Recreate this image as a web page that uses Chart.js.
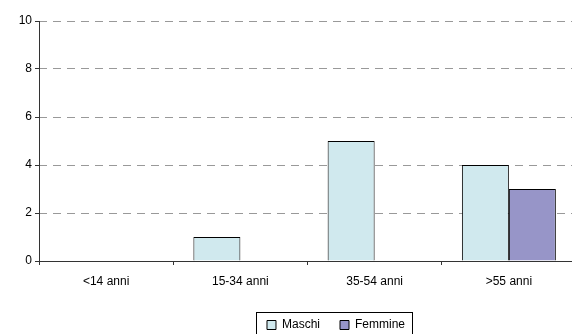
<!DOCTYPE html>
<html>
<head>
<meta charset="utf-8">
<script src="https://cdn.jsdelivr.net/npm/chart.js@4"></script>
<style>
  html, body { margin: 0; padding: 0; background: #fff; overflow: hidden; }
  #wrap { width: 576px; height: 360px; }
</style>
</head>
<body>
<div id="wrap"><canvas id="chart" width="576" height="360"></canvas></div>
<script>
const categories = ['<14 anni', '15-34 anni', '35-54 anni', '>55 anni']
const maschi = [0, 1, 5, 4]
const femmine = [0, 0, 0, 3]
const yTicks = [0, 2, 4, 6, 8, 10]

Chart.defaults.font.family = '"Liberation Sans", Arial, sans-serif'
Chart.defaults.font.size = 12
Chart.defaults.color = '#000'

// solid y axis line (the grid lines themselves are dashed)
const axisLine = {
  id: 'axisLine',
  afterDatasetsDraw (chart) {
    const { ctx, chartArea } = chart
    const x = Math.round(chartArea.left) + 0.5
    ctx.save()
    ctx.strokeStyle = '#333'
    ctx.lineWidth = 1
    ctx.beginPath()
    ctx.moveTo(x, chartArea.top)
    ctx.lineTo(x, chartArea.bottom)
    ctx.stroke()
    ctx.restore()
  }
}

// legend sits a bit right of centre in the original, with a frame round it
const legendFrame = {
  id: 'legendFrame',
  afterLayout (chart) {
    const lg = chart.legend
    if (!lg) return
    lg.left += 48
    lg.right += 48
  },
  afterDraw (chart) {
    const lg = chart.legend
    if (!lg || !lg.legendHitBoxes.length) return
    const boxes = lg.legendHitBoxes
    const left = Math.min(...boxes.map(b => b.left)) - 11
    const right = Math.max(...boxes.map(b => b.left + b.width)) + 7
    const top = boxes[0].top - 7
    const ctx = chart.ctx
    ctx.save()
    ctx.strokeStyle = '#000'
    ctx.lineWidth = 1
    ctx.strokeRect(Math.round(left) + 0.5, Math.round(top) + 0.5, Math.round(right - left), 60)
    ctx.restore()
  }
}

const chart = new Chart(document.getElementById('chart'), {
  type: 'bar',
  data: {
    labels: categories,
    datasets: [
      {
        label: 'Maschi',
        data: maschi,
        backgroundColor: '#D0E9EE',
        borderColor: '#000',
        borderWidth: 1,
        borderSkipped: 'bottom'
      },
      {
        label: 'Femmine',
        data: femmine,
        backgroundColor: '#9795C8',
        borderColor: '#000',
        borderWidth: 1,
        borderSkipped: 'bottom'
      }
    ]
  },
  options: {
    responsive: false,
    animation: false,
    layout: { padding: { top: 21, right: 0, left: 0, bottom: 19 } },
    datasets: { bar: { categoryPercentage: 0.7, barPercentage: 1 } },
    scales: {
      x: {
        grid: { drawOnChartArea: false, drawTicks: true, tickLength: 4, tickColor: '#333' },
        border: { color: '#333', width: 1 },
        ticks: { padding: 9, maxRotation: 0 },
        afterFit (scale) { scale.height = 38 }
      },
      y: {
        min: 0,
        max: 10,
        afterBuildTicks (scale) { scale.ticks = yTicks.map(v => ({ value: v })) },
        grid: { color: '#999', tickColor: '#333', tickLength: 4, tickBorderDash: [] },
        border: { display: false, dash: [8, 6] },
        ticks: { padding: 3 },
        afterFit (scale) { scale.width = 39 }
      }
    },
    plugins: {
      tooltip: { enabled: false },
      legend: {
        position: 'bottom',
        labels: {
          boxWidth: 9,
          boxHeight: 9,
          padding: 20,
          color: '#000',
          generateLabels (chart) {
            return chart.data.datasets.map((ds, i) => ({
              text: ds.label,
              fillStyle: ds.backgroundColor,
              strokeStyle: '#000',
              lineWidth: 1,
              datasetIndex: i
            }))
          }
        }
      }
    }
  },
  plugins: [axisLine, legendFrame]
})
</script>
</body>
</html>
